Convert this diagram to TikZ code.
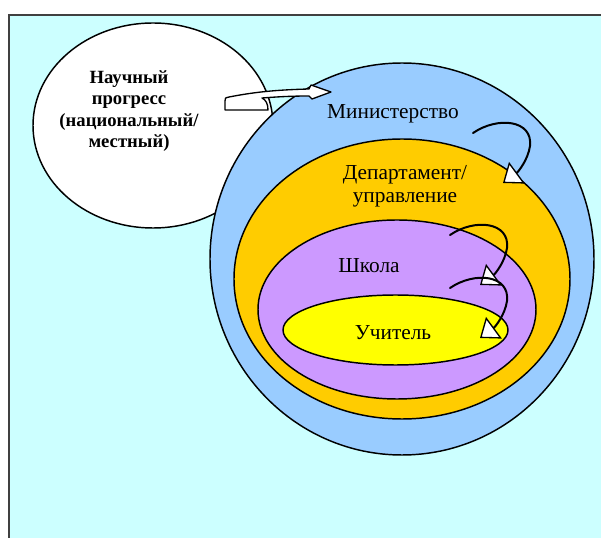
\documentclass[tikz,border=0pt]{standalone}
\usepackage{fontspec}
\setmainfont{Liberation Serif}
\usetikzlibrary{shapes.geometric,arrows.meta}
\definecolor{bgcyan}{HTML}{CCFFFF}
\definecolor{minblue}{HTML}{99CCFF}
\definecolor{deporange}{HTML}{FFCC00}
\definecolor{schpurple}{HTML}{CC99FF}
\definecolor{teachyellow}{HTML}{FFFF00}
\begin{document}
\begin{tikzpicture}[x=0.75pt,y=-0.75pt,
  ring/.style={ellipse, draw=black, line width=1.1pt, inner sep=0pt},
  lbl/.style={font=\fontsize{16}{17.3}\selectfont, align=center, inner sep=0pt},
  boldlbl/.style={font=\fontsize{14}{16.2}\selectfont\bfseries, align=center, inner sep=0pt},
  curvearrow/.style={line width=1.5pt, line cap=round,
    -{Triangle[length=13pt, width=20pt, fill=white, line width=1pt]}},
  bentarrow/.style={fill=white, draw=black, line width=1pt, line join=round}]
\useasboundingbox (0,0) rectangle (601,538);
% background panel
\fill[bgcyan] (9,15) rectangle (601,538);
\draw[line width=1.5pt, black!75] (601,15) -- (9,15) -- (9,538);
% ellipses
\node[ring, fill=white, minimum width=180pt, minimum height=153.75pt] (progress) at (153,125.5) {};
\node[ring, fill=minblue, minimum width=288pt, minimum height=294pt] (ministry) at (402,259) {};
% bent arrow from progress to ministry
\draw[bentarrow] (225,110) -- (225,101) .. controls (225,98) .. (229,97)
  .. controls (250,93) and (270,90) .. (309,89) -- (311,85) -- (331,92) -- (312,99) -- (309,96)
  .. controls (290,96) and (275,97) .. (262,98) .. controls (266,100) and (268,104) .. (268,110) -- cycle;
\node[ring, fill=deporange, minimum width=252pt, minimum height=210pt] (department) at (402,279) {};
\node[ring, fill=schpurple, minimum width=208.5pt, minimum height=134.25pt] (school) at (397,309.5) {};
\node[ring, fill=teachyellow, minimum width=168.75pt, minimum height=52.5pt] (teacher) at (395.5,330) {};
% labels
\node[boldlbl] (sci) at (129,111) {Научный\\прогресс\\(национальный/\\местный)};
\node[lbl, anchor=base] (min) at (393,119) {Министерство};
\node[lbl] (dep) at (405,186.5) {Департамент/\\управление};
\node[lbl, anchor=base] (sch) at (369,273) {Школа};
\node[lbl, anchor=base] (tch) at (393,340) {Учитель};
% curved arrows
\coordinate (a1s) at (473,133); \coordinate (a1t) at (503,183);
\coordinate (a2s) at (450,235); \coordinate (a2t) at (480,285);
\coordinate (a3s) at (450,288); \coordinate (a3t) at (480,338);
\draw[curvearrow] (a1s) .. controls (498,116) and (533,120) .. (530,146) .. controls (528,160) and (518,172) .. (a1t);
\draw[curvearrow] (a2s) .. controls (475,218) and (510,222) .. (507,248) .. controls (505,262) and (495,274) .. (a2t);
\draw[curvearrow] (a3s) .. controls (475,271) and (510,275) .. (507,301) .. controls (505,315) and (495,327) .. (a3t);
\end{tikzpicture}
\end{document}
